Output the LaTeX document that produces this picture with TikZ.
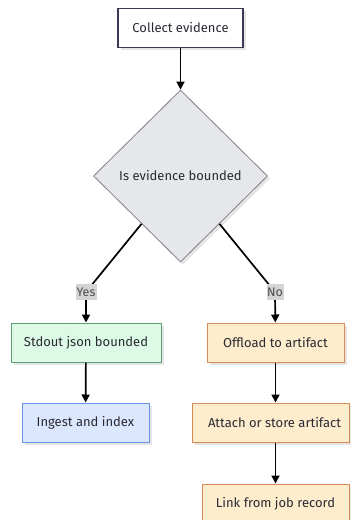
\documentclass[tikz,border=0pt]{standalone}
\usepackage{fontspec}
\setmainfont{Fira Sans}
\usetikzlibrary{shapes.geometric,arrows.meta,shadows}

\definecolor{ink}{HTML}{2A2A33}
\definecolor{navy}{HTML}{3A3A55}
\definecolor{decfill}{HTML}{E6E7EB}
\definecolor{decline}{HTML}{7F8088}
\definecolor{gfill}{HTML}{DCFAE6}
\definecolor{gline}{HTML}{5E9E72}
\definecolor{bfill}{HTML}{DBE7FD}
\definecolor{bline}{HTML}{6A92E4}
\definecolor{ofill}{HTML}{FDEDCD}
\definecolor{oline}{HTML}{D68B54}
\definecolor{lblbg}{HTML}{D4D4D4}

\tikzset{
  shade box/.style={drop shadow={shadow xshift=2.5pt, shadow yshift=-2.5pt, fill=black!10, opacity=1}},
  procbox/.style={rectangle, draw, line width=1pt, minimum height=39pt, inner sep=0pt,
    font=\fontsize{13}{15}\selectfont, text=ink, shade box},
  startbox/.style={procbox, fill=white, draw=navy, line width=1.3pt},
  greenbox/.style={procbox, fill=gfill, draw=gline},
  bluebox/.style={procbox, fill=bfill, draw=bline},
  orangebox/.style={procbox, fill=ofill, draw=oline},
  decision/.style={diamond, draw=decline, fill=decfill, line width=0.8pt, inner sep=0pt,
    minimum width=174pt, minimum height=172pt, font=\fontsize{13}{15}\selectfont, text=ink, shade box},
  edgelbl/.style={fill=lblbg, text=black!70, inner sep=0pt, minimum width=21pt, minimum height=16pt,
    font=\fontsize{12.5}{14}\selectfont},
  flow/.style={line width=1.7pt, -{Triangle[width=8pt,length=8pt]}},
}

\begin{document}
\begin{tikzpicture}[x=1pt, y=-1pt]
  \useasboundingbox (0,0) rectangle (351,520);
  \fill[white] (0,0) rectangle (351,520);

  % nodes
  \node[startbox, minimum width=125pt] (collect) at (180.5,28) {Collect evidence};
  \node[decision] (bounded) at (180.5,176) {Is evidence bounded};
  \node[greenbox, minimum width=150pt] (stdout) at (86,342.5) {Stdout json bounded};
  \node[bluebox, minimum width=127pt] (ingest) at (85.5,422.5) {Ingest and index};
  \node[orangebox, minimum width=137pt] (offload) at (275.5,342.5) {Offload to artifact};
  \node[orangebox, minimum width=157pt] (attach) at (270.5,422.5) {\hspace{8pt}Attach or store artifact};
  \node[orangebox, minimum width=147pt] (link) at (275.5,503.5) {Link from job record};

  % bends of the two branches
  \coordinate (yesbend) at (86,292);
  \coordinate (nobend) at (275,292);

  % connectors
  \draw[flow] (collect) -- (bounded);
  \draw[flow] (bounded) -- (yesbend) -- (stdout);
  \draw[flow] (bounded) -- (nobend) -- (offload);
  \node[edgelbl] (yes) at (yesbend) {Yes};
  \node[edgelbl, minimum width=17pt] (no) at (nobend) {No};
  \draw[flow] (stdout) -- (ingest);
  \draw[flow] (offload.south -| link) -- (attach.north -| link);
  \draw[flow] (attach.south -| link) -- (link);
\end{tikzpicture}
\end{document}
